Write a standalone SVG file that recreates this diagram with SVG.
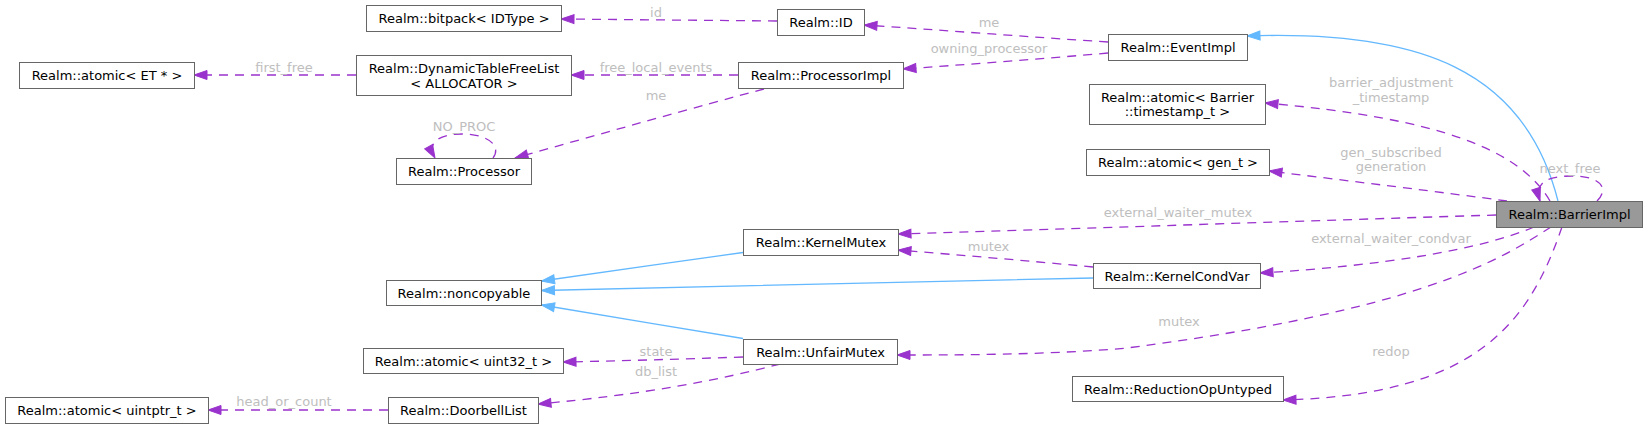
<svg xmlns="http://www.w3.org/2000/svg" width="1647" height="428" viewBox="0 0 1647 428">
<style>
.node rect{fill:#ffffff;stroke:#666666;stroke-width:1}
.node.main rect{fill:#999999}
.node text{font-family:"DejaVu Sans","Liberation Sans",sans-serif;font-size:13px;fill:#000000;text-anchor:middle}
.use{fill:none;stroke:#9a32cd;stroke-width:1.3;stroke-dasharray:9,7;marker-end:url(#ap)}
.inh{fill:none;stroke:#63b8ff;stroke-width:1.3;marker-end:url(#ab)}
.lbl{font-family:"DejaVu Sans","Liberation Sans",sans-serif;font-size:13px;fill:#bebebe;text-anchor:middle}
</style>
<defs>
<marker id="ap" markerUnits="userSpaceOnUse" markerWidth="15" markerHeight="12" refX="13" refY="5" orient="auto" overflow="visible">
<path d="M0,0.5 L13,5 L0,9.5 Z" fill="#9a32cd" stroke="#9a32cd" stroke-width="1" stroke-dasharray="none"/>
</marker>
<marker id="ab" markerUnits="userSpaceOnUse" markerWidth="15" markerHeight="12" refX="13" refY="5" orient="auto" overflow="visible">
<path d="M0,0.5 L13,5 L0,9.5 Z" fill="#63b8ff" stroke="#63b8ff" stroke-width="1" stroke-dasharray="none"/>
</marker>
</defs>
<rect width="1647" height="428" fill="#ffffff"/>
<g id="connectors">
<path class="use" d="M777,21 L561,19"/>
<text class="lbl" x="656" y="17">id</text>
<path class="use" d="M1108,42 C1030,37 940,30 864,25"/>
<text class="lbl" x="989" y="26.5">me</text>
<path class="use" d="M1108,53 C1040,59 960,65 903,69"/>
<text class="lbl" x="989" y="53">owning_processor</text>
<path class="use" d="M738,75 L571,75"/>
<text class="lbl" x="656" y="71.5">free_local_events</text>
<path class="use" d="M356,75 L194,75"/>
<text class="lbl" x="284" y="72">first_free</text>
<path class="use" d="M764,89 C700,106 600,134 515,158"/>
<text class="lbl" x="656" y="100">me</text>
<path class="use" d="M493,158 C502,146 488,134 462,134 C440,134 426,142 435,158"/>
<text class="lbl" x="464" y="131">NO_PROC</text>
<path class="inh" d="M1558,201 C1525,70 1420,30 1247,36"/>
<path class="use" d="M1550,201 C1520,150 1440,118 1265,103"/>
<text class="lbl" x="1391" y="87">barrier_adjustment</text>
<text class="lbl" x="1391" y="102">_timestamp</text>
<path class="use" d="M1507,201 C1440,192 1350,181 1269,171"/>
<text class="lbl" x="1391" y="156.5">gen_subscribed</text>
<text class="lbl" x="1391" y="171">generation</text>
<path class="use" d="M1597,201 C1610,188 1600,176 1572,176 C1548,176 1534,182 1540,201"/>
<text class="lbl" x="1570" y="173">next_free</text>
<path class="use" d="M1496,215 C1300,221 1100,228 898,234"/>
<text class="lbl" x="1178" y="216.5">external_waiter_mutex</text>
<path class="use" d="M1534,227 C1480,250 1380,266 1260,273"/>
<text class="lbl" x="1391" y="243">external_waiter_condvar</text>
<path class="use" d="M1551,227 C1500,260 1420,310 1127,348 C1050,355 950,355 897,355"/>
<text class="lbl" x="1179" y="326">mutex</text>
<path class="use" d="M1562,227 C1530,320 1480,395 1283,400"/>
<text class="lbl" x="1391" y="356">redop</text>
<path class="use" d="M1093,267 C1030,261 960,255 898,250"/>
<text class="lbl" x="988.5" y="250.5">mutex</text>
<path class="inh" d="M743,252.5 C680,261 600,273 541.5,281"/>
<path class="inh" d="M1093,278 C900,282 700,287 541.5,290.5"/>
<path class="inh" d="M743,338.5 C680,328 600,315 541.5,305"/>
<path class="use" d="M743,357 C680,359 620,361 563,362"/>
<text class="lbl" x="656" y="355.5">state</text>
<path class="use" d="M780,364 C720,380 640,395 538,404"/>
<text class="lbl" x="656" y="376">db_list</text>
<path class="use" d="M388,410 L208,410"/>
<text class="lbl" x="284" y="406">head_or_count</text>
</g>
<g id="node_atomic_ET" class="node"><rect x="19.5" y="62.5" width="175" height="26"/><text x="107" y="80">Realm::atomic&lt; ET * &gt;</text></g>
<g id="node_bitpack" class="node"><rect x="366.5" y="5.5" width="195" height="26"/><text x="464" y="23">Realm::bitpack&lt; IDType &gt;</text></g>
<g id="node_DynamicTableFreeList" class="node"><rect x="356.5" y="55.5" width="215" height="40"/><text x="464" y="73">Realm::DynamicTableFreeList</text><text x="464" y="87.5">&lt; ALLOCATOR &gt;</text></g>
<g id="node_Processor" class="node"><rect x="396.5" y="158.5" width="135" height="26"/><text x="464" y="176">Realm::Processor</text></g>
<g id="node_ID" class="node"><rect x="777.5" y="9.5" width="87" height="26"/><text x="821" y="27">Realm::ID</text></g>
<g id="node_ProcessorImpl" class="node"><rect x="738.5" y="62.5" width="165" height="26"/><text x="821" y="80">Realm::ProcessorImpl</text></g>
<g id="node_EventImpl" class="node"><rect x="1108.5" y="34.5" width="139" height="26"/><text x="1178" y="52">Realm::EventImpl</text></g>
<g id="node_atomic_timestamp" class="node"><rect x="1089.5" y="84.5" width="176" height="40"/><text x="1177.5" y="101.5">Realm::atomic&lt; Barrier</text><text x="1177.5" y="116">::timestamp_t &gt;</text></g>
<g id="node_atomic_gen" class="node"><rect x="1086.5" y="149.5" width="183" height="26"/><text x="1178" y="167">Realm::atomic&lt; gen_t &gt;</text></g>
<g id="node_BarrierImpl" class="node main"><rect x="1496.5" y="201.5" width="146" height="26"/><text x="1569.5" y="219">Realm::BarrierImpl</text></g>
<g id="node_KernelMutex" class="node"><rect x="743.5" y="229.5" width="155" height="26"/><text x="821" y="247">Realm::KernelMutex</text></g>
<g id="node_KernelCondVar" class="node"><rect x="1093.5" y="263.5" width="167" height="25"/><text x="1177" y="280.5">Realm::KernelCondVar</text></g>
<g id="node_noncopyable" class="node"><rect x="386.5" y="280.5" width="155" height="25"/><text x="464" y="297.5">Realm::noncopyable</text></g>
<g id="node_UnfairMutex" class="node"><rect x="743.5" y="339.5" width="154" height="25"/><text x="820.5" y="356.5">Realm::UnfairMutex</text></g>
<g id="node_atomic_uint32" class="node"><rect x="363.5" y="348.5" width="200" height="25"/><text x="463.5" y="365.5">Realm::atomic&lt; uint32_t &gt;</text></g>
<g id="node_ReductionOpUntyped" class="node"><rect x="1072.5" y="376.5" width="211" height="25"/><text x="1178" y="393.5">Realm::ReductionOpUntyped</text></g>
<g id="node_DoorbellList" class="node"><rect x="388.5" y="397.5" width="150" height="26"/><text x="463.5" y="415">Realm::DoorbellList</text></g>
<g id="node_atomic_uintptr" class="node"><rect x="5.5" y="397.5" width="203" height="26"/><text x="107" y="415">Realm::atomic&lt; uintptr_t &gt;</text></g>
</svg>
